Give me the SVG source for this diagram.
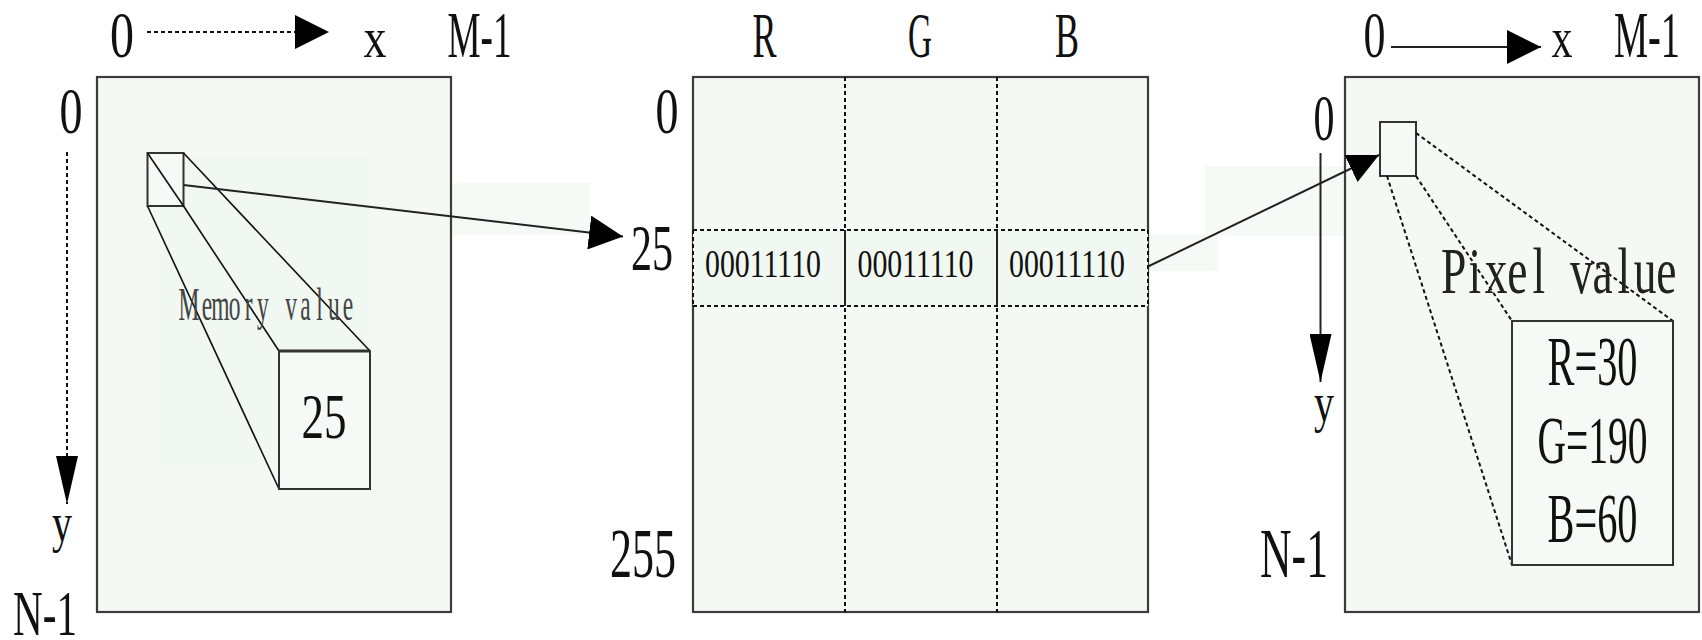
<svg xmlns="http://www.w3.org/2000/svg" width="1702" height="640" viewBox="0 0 1702 640">
  <defs>
    <style>
      .lbl { font-family: "Liberation Serif", "DejaVu Serif", serif; fill: #111; text-anchor: middle; }
      .panel { fill: #f4f9f4; stroke: #3c3c3c; stroke-width: 2.2; }
      .face { fill: #f6faf6; stroke: #333; stroke-width: 2; }
      .edge { fill: none; stroke: #111; stroke-width: 1.6; }
      .dash { fill: none; stroke: #111; stroke-width: 2; stroke-dasharray: 4 3; }
      .solid { fill: none; stroke: #222; stroke-width: 2; }
      .haze { fill: #eef6ee; opacity: 0.55; }
    </style>
    <marker id="arrow" viewBox="0 0 34 34" refX="34" refY="17" markerWidth="34" markerHeight="34" markerUnits="userSpaceOnUse" orient="auto">
      <path d="M0,0 L34,17 L0,34 Z" fill="#000"/>
    </marker>
    <marker id="arrowTall" viewBox="0 0 48 22" refX="48" refY="11" markerWidth="48" markerHeight="22" markerUnits="userSpaceOnUse" orient="auto">
      <path d="M0,0 L48,11 L0,22 Z" fill="#000"/>
    </marker>
    <marker id="arrowSmall" viewBox="0 0 31 30" refX="31" refY="15" markerWidth="31" markerHeight="30" markerUnits="userSpaceOnUse" orient="auto">
      <path d="M0,0 L31,15 L0,30 Z" fill="#000"/>
    </marker>
  </defs>

  <rect width="1702" height="640" fill="#ffffff"/>

  <!-- faint tinted blocks behind the links -->
  <rect class="haze" x="452" y="183" width="138" height="52"/>
  <rect class="haze" x="1148" y="235" width="70" height="36"/>
  <rect class="haze" x="1205" y="166" width="140" height="70"/>

  <!-- memory image: x/y address space -->
  <g id="memory-image">
    <rect class="panel" x="97" y="77" width="354" height="535"/>
    <rect class="haze" x="160" y="155" width="210" height="310"/>
    <text class="lbl" x="122" y="57" font-size="65" textLength="24" lengthAdjust="spacingAndGlyphs">0</text>
    <text class="lbl" x="375" y="57" font-size="56" textLength="23" lengthAdjust="spacingAndGlyphs">x</text>
    <text class="lbl" x="479.5" y="57" font-size="66" textLength="64" lengthAdjust="spacingAndGlyphs">M-1</text>
    <text class="lbl" x="71" y="133" font-size="65" textLength="23" lengthAdjust="spacingAndGlyphs">0</text>
    <text class="lbl" x="62" y="541" font-size="54" textLength="20" lengthAdjust="spacingAndGlyphs">y</text>
    <text class="lbl" x="45" y="635" font-size="64" textLength="64" lengthAdjust="spacingAndGlyphs">N-1</text>
  </g>

  <!-- one memory cell blown up into a block -->
  <g id="memory-cell">
    <rect class="face" x="147.5" y="153" width="36" height="53"/>
    <line class="edge" x1="147.5" y1="153" x2="183.5" y2="206"/>
    <line class="edge" x1="147.5" y1="206" x2="279" y2="489"/>
    <line class="edge" x1="183.5" y1="206" x2="279" y2="351"/>
    <line class="edge" x1="183.5" y1="153" x2="370" y2="351"/>
    <rect class="face" x="279" y="351" width="91" height="138"/>
    <line x1="279" y1="351" x2="370" y2="351" stroke="#333" stroke-width="3"/>
    <!-- fixed-pitch caption: one cell per character, glyphs narrowed -->
    <text class="lbl" transform="scale(0.5 1)" y="320" font-size="47" style="fill:#444" x="378 414 440.8 469.2 497.5 525.9 554.2 582.5 610.9 639.2 667.6 695.9">Memory value</text>
    <text class="lbl" x="324" y="438" font-size="64" textLength="45" lengthAdjust="spacingAndGlyphs">25</text>
  </g>

  <!-- colour lookup table: 256 rows of R, G, B -->
  <g id="lookup-table">
    <rect class="panel" x="693" y="77" width="455" height="535"/>
    <line class="dash" x1="845" y1="77" x2="845" y2="612"/>
    <line class="dash" x1="997" y1="77" x2="997" y2="612"/>
    <text class="lbl" x="764.5" y="57" font-size="63" textLength="24" lengthAdjust="spacingAndGlyphs">R</text>
    <text class="lbl" x="920" y="57" font-size="63" textLength="24" lengthAdjust="spacingAndGlyphs">G</text>
    <text class="lbl" x="1067" y="57" font-size="63" textLength="24" lengthAdjust="spacingAndGlyphs">B</text>
    <text class="lbl" x="667" y="133" font-size="65" textLength="23" lengthAdjust="spacingAndGlyphs">0</text>
    <text class="lbl" x="652" y="270" font-size="66" textLength="42" lengthAdjust="spacingAndGlyphs">25</text>
    <text class="lbl" x="643" y="577" font-size="69" textLength="66" lengthAdjust="spacingAndGlyphs">255</text>
  </g>

  <!-- table row 25 -->
  <g id="row-25">
    <rect x="693" y="230" width="455" height="76" fill="#f1f7f1"/>
    <line class="dash" x1="693" y1="230" x2="1148" y2="230"/>
    <line class="dash" x1="693" y1="306" x2="1148" y2="306"/>
    <line class="dash" x1="693" y1="230" x2="693" y2="306"/>
    <line class="dash" x1="1148" y1="230" x2="1148" y2="306"/>
    <line class="solid" x1="845" y1="230" x2="845" y2="306" stroke="#111"/>
    <line class="solid" x1="997" y1="230" x2="997" y2="306" stroke="#111"/>
    <text class="lbl" x="763" y="277" font-size="40" textLength="116" lengthAdjust="spacingAndGlyphs">00011110</text>
    <text class="lbl" x="915.5" y="277" font-size="40" textLength="116" lengthAdjust="spacingAndGlyphs">00011110</text>
    <text class="lbl" x="1067" y="277" font-size="40" textLength="116" lengthAdjust="spacingAndGlyphs">00011110</text>
  </g>

  <!-- displayed image -->
  <g id="display-image">
    <rect class="panel" x="1345" y="77" width="354" height="535"/>
    <text class="lbl" x="1374.5" y="57" font-size="65" textLength="22" lengthAdjust="spacingAndGlyphs">0</text>
    <text class="lbl" x="1562" y="57" font-size="56" textLength="21" lengthAdjust="spacingAndGlyphs">x</text>
    <text class="lbl" x="1647" y="57" font-size="66" textLength="66" lengthAdjust="spacingAndGlyphs">M-1</text>
    <text class="lbl" x="1324" y="140" font-size="65" textLength="21" lengthAdjust="spacingAndGlyphs">0</text>
    <text class="lbl" x="1324" y="421" font-size="54" textLength="20" lengthAdjust="spacingAndGlyphs">y</text>
    <text class="lbl" x="1294" y="577" font-size="70" textLength="68" lengthAdjust="spacingAndGlyphs">N-1</text>
  </g>

  <!-- one pixel and its value -->
  <g id="pixel">
    <rect class="face" x="1380" y="122" width="36" height="54"/>
    <line class="dash" x1="1416" y1="133" x2="1673" y2="321"/>
    <line class="dash" x1="1416" y1="176" x2="1512" y2="321"/>
    <line class="dash" x1="1387" y1="176" x2="1512" y2="565"/>
    <!-- fixed-pitch caption: one cell per character, glyphs narrowed -->
    <text class="lbl" transform="scale(0.7 1)" y="293" font-size="65" style="fill:#222" x="2076.6 2107.0 2137.4 2167.8 2198.2 2228.6 2259.0 2289.3 2319.7 2350.1 2380.5">Pixel value</text>
    <rect class="face" x="1512" y="321" width="161" height="244"/>
    <text class="lbl" x="1592.5" y="385" font-size="70" textLength="90" lengthAdjust="spacingAndGlyphs">R=30</text>
    <text class="lbl" x="1592.5" y="463" font-size="68" textLength="110" lengthAdjust="spacingAndGlyphs">G=190</text>
    <text class="lbl" x="1592.5" y="542" font-size="70" textLength="90" lengthAdjust="spacingAndGlyphs">B=60</text>
  </g>

  <!-- axes and links -->
  <g id="connectors">
    <line class="dash" x1="147" y1="32" x2="329" y2="32" marker-end="url(#arrow)"/>
    <line class="dash" x1="67" y1="152" x2="67" y2="504" marker-end="url(#arrowTall)"/>
    <line class="solid" x1="1391" y1="47" x2="1541" y2="47" marker-end="url(#arrow)"/>
    <line class="solid" x1="1320.5" y1="153" x2="1320.5" y2="382" marker-end="url(#arrowTall)"/>
    <line class="solid" x1="183.5" y1="185" x2="623" y2="236.5" marker-end="url(#arrow)"/>
    <line class="solid" x1="1148" y1="266.5" x2="1379" y2="155" marker-end="url(#arrowSmall)"/>
  </g>
</svg>
